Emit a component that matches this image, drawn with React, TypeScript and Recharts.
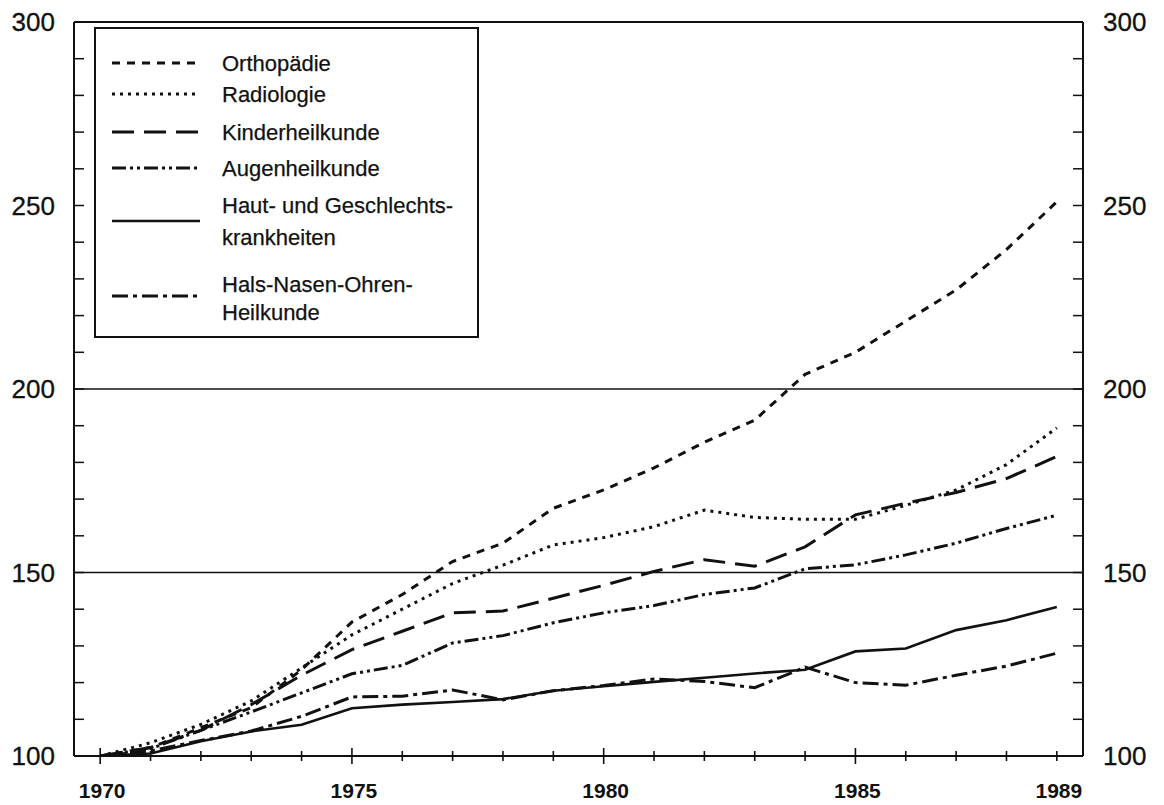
import React from 'react';
import { LineChart, Line, XAxis, YAxis, ReferenceLine } from 'recharts';

const YEARS = [1970, 1971, 1972, 1973, 1974, 1975, 1976, 1977, 1978, 1979, 1980, 1981, 1982, 1983, 1984, 1985, 1986, 1987, 1988, 1989];
const X_LABELS = [1970, 1975, 1980, 1985, 1989];
const X_MAJOR = [1970, 1975, 1980, 1985];
const Y_TICKS = [100, 110, 120, 130, 140, 150, 160, 170, 180, 190, 200, 210, 220, 230, 240, 250, 260, 270, 280, 290, 300];
const Y_LABELS = [100, 150, 200, 250, 300];
const GRID_VALUES = [150, 200];

const ORTHO = [100, 102.3, 107.7, 113.2, 123.5, 136.5, 144, 153, 158, 167.5, 172.5, 178.5, 185.5, 191.5, 204, 210, 218.5, 227, 238, 251];
const RADIO = [100, 103.6, 108.6, 115, 124, 133, 140, 147, 152, 157.5, 159.5, 162.5, 167, 165, 164.5, 164.5, 168.3, 172.5, 179.4, 189.4];
const KINDER = [100, 102.3, 107, 114, 122, 129, 134, 139, 139.5, 143, 146.5, 150.3, 153.5, 151.7, 157, 165.7, 168.9, 171.8, 175.6, 181.6];
const AUGEN = [100, 102, 107, 112, 117.2, 122.4, 124.7, 130.8, 132.8, 136.3, 139, 141, 144, 145.8, 151, 152.1, 154.8, 158, 162, 165.6];
const HAUT = [100, 100.7, 104, 106.7, 108.5, 113, 114, 114.7, 115.5, 117.8, 119, 120.2, 121.3, 122.5, 123.5, 128.5, 129.3, 134.3, 137, 140.6];
const HALS = [100, 101.4, 104.2, 106.8, 110.8, 116.1, 116.3, 118, 115.3, 117.8, 119.2, 121, 120.3, 118.6, 124.2, 120, 119.3, 122, 124.5, 128];

const SERIES = [
  { key: 'ortho', values: ORTHO, label: ['Orthopädie'], dash: '8 7', width: 3 },
  { key: 'radio', values: RADIO, label: ['Radiologie'], dash: '3 5', width: 3 },
  { key: 'kinder', values: KINDER, label: ['Kinderheilkunde'], dash: '22 10', width: 3 },
  { key: 'augen', values: AUGEN, label: ['Augenheilkunde'], dash: '14 4 3 4 3 4', width: 3 },
  { key: 'haut', values: HAUT, label: ['Haut- und Geschlechts-', 'krankheiten'], dash: undefined, width: 2.6 },
  { key: 'hals', values: HALS, label: ['Hals-Nasen-Ohren-', 'Heilkunde'], dash: '16 5 4 5', width: 3 },
];

const data = YEARS.map((year, i) => {
  const row: Record<string, number> = { year };
  SERIES.forEach((s) => {
    row[s.key] = s.values[i];
  });
  return row;
});

const INK = '#111';
const FONT = '"Liberation Sans", Arial, Helvetica, sans-serif';

const LeftTick = (props: any) => {
  const { x, y, payload } = props;
  const v = payload.value;
  return (
    <g>
      <line x1={x} x2={x + 10} y1={y} y2={y} stroke={INK} strokeWidth={1.5} />
      {Y_LABELS.includes(v) && (
        <text x={x - 19} y={y} textAnchor="end" dominantBaseline="central" fontSize={26} fill={INK} fontFamily={FONT} stroke={INK} strokeWidth={0.3}>
          {v}
        </text>
      )}
    </g>
  );
};

const RightTick = (props: any) => {
  const { x, y, payload } = props;
  const v = payload.value;
  return (
    <g>
      <line x1={x - 10} x2={x} y1={y} y2={y} stroke={INK} strokeWidth={1.5} />
      {Y_LABELS.includes(v) && (
        <text x={x + 20} y={y} textAnchor="start" dominantBaseline="central" fontSize={26} fill={INK} fontFamily={FONT} stroke={INK} strokeWidth={0.3}>
          {v}
        </text>
      )}
    </g>
  );
};

const BottomTick = (props: any) => {
  const { x, y, payload } = props;
  const v = payload.value;
  const len = X_MAJOR.includes(v) ? 8 : 5;
  return (
    <g>
      <line x1={x} x2={x} y1={y - len} y2={y + len} stroke={INK} strokeWidth={1.6} />
      {X_LABELS.includes(v) && (
        <text x={x + 2} y={y + 34} textAnchor="middle" dominantBaseline="central" fontSize={21} fontWeight="bold" fill={INK} fontFamily={FONT}>
          {v}
        </text>
      )}
    </g>
  );
};

const LEGEND_ROWS = [
  { sampleY: 36, textY: [36] },
  { sampleY: 67, textY: [67] },
  { sampleY: 105, textY: [105] },
  { sampleY: 141, textY: [141] },
  { sampleY: 194, textY: [178, 210] },
  { sampleY: 269, textY: [257, 285] },
];

const LegendBox = () => (
  <svg
    width={386}
    height={312}
    style={{ position: 'absolute', left: 86, top: 19 }}
  >
    <rect x={1} y={1} width={383} height={309} fill="#fff" stroke={INK} strokeWidth={2} />
    {SERIES.map((s, i) => {
      const row = LEGEND_ROWS[i];
      return (
        <g key={s.key}>
          <line
            x1={18}
            x2={106}
            y1={row.sampleY}
            y2={row.sampleY}
            stroke={INK}
            strokeWidth={s.width}
            strokeDasharray={s.dash}
          />
          {s.label.map((t, j) => (
            <text
              key={j}
              x={128}
              y={row.textY[j]}
              dominantBaseline="central"
              fontSize={22}
              fill={INK}
              fontFamily={FONT}
              stroke={INK}
              strokeWidth={0.25}
            >
              {t}
            </text>
          ))}
        </g>
      );
    })}
  </svg>
);

export default function App() {
  return (
    <div style={{ position: 'relative', width: 1150, height: 797, fontFamily: FONT, background: '#fff' }}>
      <LineChart
        width={1150}
        height={797}
        data={data}
        margin={{ top: 14, right: 5, left: 0, bottom: 9 }}
      >
        <XAxis
          dataKey="year"
          type="number"
          domain={[1969.48, 1989.52]}
          ticks={YEARS}
          interval={0}
          height={40}
          tickSize={0}
          tickMargin={0}
          tickLine={false}
          axisLine={{ stroke: INK, strokeWidth: 2 }}
          tick={<BottomTick />}
          allowDataOverflow
        />
        <YAxis
          yAxisId="left"
          orientation="left"
          type="number"
          domain={[100, 300]}
          ticks={Y_TICKS}
          interval={0}
          width={66}
          tickSize={0}
          tickMargin={0}
          tickLine={false}
          axisLine={{ stroke: INK, strokeWidth: 2 }}
          tick={<LeftTick />}
          allowDataOverflow
        />
        <YAxis
          yAxisId="right"
          orientation="right"
          type="number"
          domain={[100, 300]}
          ticks={Y_TICKS}
          interval={0}
          width={70}
          tickSize={0}
          tickMargin={0}
          tickLine={false}
          axisLine={{ stroke: INK, strokeWidth: 2 }}
          tick={<RightTick />}
          allowDataOverflow
        />
        <ReferenceLine yAxisId="left" y={300} stroke={INK} strokeWidth={2} />
        {GRID_VALUES.map((g) => (
          <ReferenceLine key={g} yAxisId="left" y={g} stroke={INK} strokeWidth={1.5} />
        ))}
        {SERIES.map((s) => (
          <Line
            key={s.key}
            yAxisId="left"
            type="linear"
            dataKey={s.key}
            stroke={INK}
            strokeWidth={s.width}
            strokeDasharray={s.dash}
            dot={false}
            activeDot={false}
            isAnimationActive={false}
          />
        ))}
      </LineChart>
      <LegendBox />
    </div>
  );
}
